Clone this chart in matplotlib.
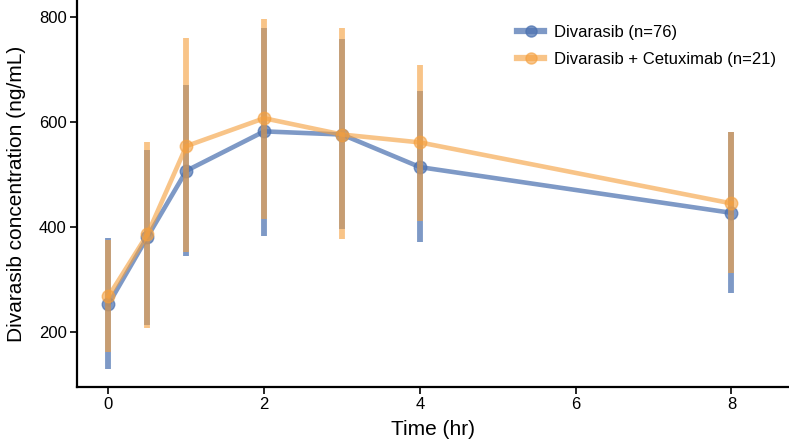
import matplotlib
matplotlib.use("Agg")
import matplotlib.pyplot as plt
import numpy as np

plt.rcParams['font.family'] = ['Liberation Sans', 'DejaVu Sans']

time = [0, 0.5, 1, 2, 3, 4, 8]
div_mean = [253, 381, 507, 582, 576, 514, 427]
div_low = [129, 213, 345, 383, 396, 371, 274]
div_high = [380, 546, 670, 778, 757, 659, 580]
cet_mean = [268, 386, 554, 607, 576, 561, 445]
cet_low = [162, 208, 353, 415, 377, 411, 312]
cet_high = [375, 562, 760, 796, 778, 708, 580]

labels = ['Divarasib (n=76)', 'Divarasib + Cetuximab (n=21)']
colors = ['#4C72B0', '#F5A03F']
alphas = [0.72, 0.62]

fig = plt.figure(figsize=(7.89, 4.43), dpi=100)
ax = fig.add_axes([0.0970, 0.1257, 0.9030, 0.8743])

for mean, lo, hi, lab, c, a in [(div_mean, div_low, div_high, labels[0], colors[0], alphas[0]),
                                (cet_mean, cet_low, cet_high, labels[1], colors[1], alphas[1])]:
    mean = np.array(mean); lo = np.array(lo); hi = np.array(hi)
    ax.vlines(time, lo, hi, color=c, alpha=a, lw=4.2)
    ax.plot(time, mean, color=c, alpha=a, lw=3.3, marker='o', ms=9, label=lab)

ax.set_xlim(-0.41, 8.74)
ax.set_ylim(95, 832)
ax.set_xticks([0, 2, 4, 6, 8])
ax.set_yticks([200, 400, 600, 800])
ax.spines['top'].set_visible(False)
ax.spines['right'].set_visible(False)
ax.spines['left'].set_linewidth(1.6)
ax.spines['bottom'].set_linewidth(1.6)
ax.tick_params(labelsize=12, length=5, width=1.2, pad=2)
ax.set_xlabel('Time (hr)', fontsize=15, labelpad=6)
ax.set_ylabel('Divarasib concentration (ng/mL)', fontsize=15, labelpad=9)

leg = ax.legend(loc='upper left', bbox_to_anchor=(0.6185, 0.935), frameon=False, fontsize=12,
                handlelength=1.6, handletextpad=0.6, labelspacing=0.68,
                borderpad=0, borderaxespad=0)
for h in leg.legend_handles:
    h.set_linewidth(4.5)
    h.set_markersize(8)

fig.savefig('out.png', dpi=100)
